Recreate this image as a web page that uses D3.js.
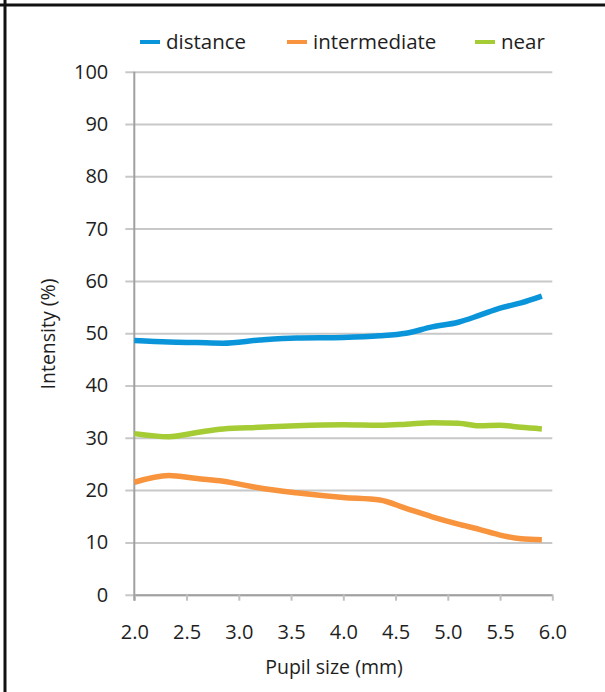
<!DOCTYPE html>
<html><head><meta charset="utf-8">
<script src="https://cdn.jsdelivr.net/npm/d3@7"></script>
<style>body{margin:0;background:#fff}svg{display:block}</style>
</head><body>
<svg id="c" width="605" height="692"></svg>
<script>
const pupil = [2.0, 2.33, 2.6, 2.85, 3.2, 3.55, 4.0, 4.35, 4.6, 4.85, 5.1, 5.3, 5.5, 5.7, 5.9];
const distance = [48.6, 48.3, 48.2, 48.1, 48.7, 49.1, 49.2, 49.5, 50.0, 51.2, 52.1, 53.4, 54.8, 55.8, 57.1];
const intermediate = [21.5, 22.8, 22.2, 21.7, 20.4, 19.5, 18.6, 18.1, 16.5, 14.9, 13.5, 12.5, 11.4, 10.7, 10.5];
const near = [30.8, 30.2, 31.0, 31.7, 32.0, 32.3, 32.5, 32.4, 32.6, 32.9, 32.8, 32.3, 32.4, 32.0, 31.7];
const seriesNames = ["distance", "intermediate", "near"];
const seriesColors = ["#0a95da", "#f7943d", "#a5cc35"];
const xTicks = [2.0, 2.5, 3.0, 3.5, 4.0, 4.5, 5.0, 5.5, 6.0];
const yTicks = [0, 10, 20, 30, 40, 50, 60, 70, 80, 90, 100];

const svg = d3.select("#c");
const font = "'Open Sans', sans-serif";
const ink = "#1e1e1e";
// frame
svg.append("line").attr("x1",0).attr("x2",605).attr("y1",5).attr("y2",5).attr("stroke","#111").attr("stroke-width",3);
svg.append("line").attr("x1",5).attr("x2",5).attr("y1",0).attr("y2",692).attr("stroke","#111").attr("stroke-width",3);

const x = d3.scaleLinear().domain([2,6]).range([134.3,552.3]);
const y = d3.scaleLinear().domain([0,100]).range([594.7,71.7]);

// gridlines + y axis
const ya = svg.append("g").attr("transform","translate(134.3,0)")
  .call(d3.axisLeft(y).tickValues(yTicks).tickSize(-418).tickSizeOuter(0).tickPadding(26).tickFormat(d3.format("d")));
ya.select(".domain").remove();
ya.selectAll(".tick line").attr("stroke","#c8c8c8").attr("stroke-width",2).attr("x1",-9);
ya.selectAll("text").attr("font-family",font).attr("font-size",20).attr("fill",ink);

// x axis
const xa = svg.append("g").attr("transform","translate(0,594.7)")
  .call(d3.axisBottom(x).tickValues(xTicks).tickSize(6).tickSizeOuter(0).tickPadding(24).tickFormat(d3.format(".1f")));
xa.select(".domain").attr("stroke","#a0a0a0").attr("stroke-width",2);
xa.selectAll(".tick line").attr("stroke","#c0c0c0").attr("stroke-width",2);
xa.selectAll("text").attr("font-family",font).attr("font-size",20).attr("fill",ink);
// y axis line
svg.append("line").attr("x1",x(2)).attr("x2",x(2)).attr("y1",y(100)).attr("y2",y(0)+6)
  .attr("stroke","#a0a0a0").attr("stroke-width",2);

// lines
const data = [distance, intermediate, near];
const line = d3.line().x((d,i)=>x(pupil[i])).y(d=>y(d)).curve(d3.curveMonotoneX);
data.forEach((s,k)=>{
  svg.append("path").attr("d",line(s)).attr("fill","none").attr("stroke",seriesColors[k])
    .attr("stroke-width",5.5).attr("stroke-linejoin","round");
});

// legend
const legX = [140, 287, 475];
seriesNames.forEach((n,k)=>{
  svg.append("line").attr("x1",legX[k]).attr("x2",legX[k]+20).attr("y1",42).attr("y2",42)
    .attr("stroke",seriesColors[k]).attr("stroke-width",4);
  svg.append("text").attr("x",legX[k]+26).attr("y",49).text(n)
    .attr("font-family",font).attr("font-size",20.5).attr("fill",ink);
});

// axis titles
svg.append("text").attr("x",334).attr("y",674).attr("text-anchor","middle").text("Pupil size (mm)")
  .attr("font-family",font).attr("font-size",19.5).attr("fill",ink);
svg.append("text").attr("transform","translate(55,334) rotate(-90)").attr("text-anchor","middle").text("Intensity (%)")
  .attr("font-family",font).attr("font-size",19.5).attr("fill",ink);
</script>
</body></html>
